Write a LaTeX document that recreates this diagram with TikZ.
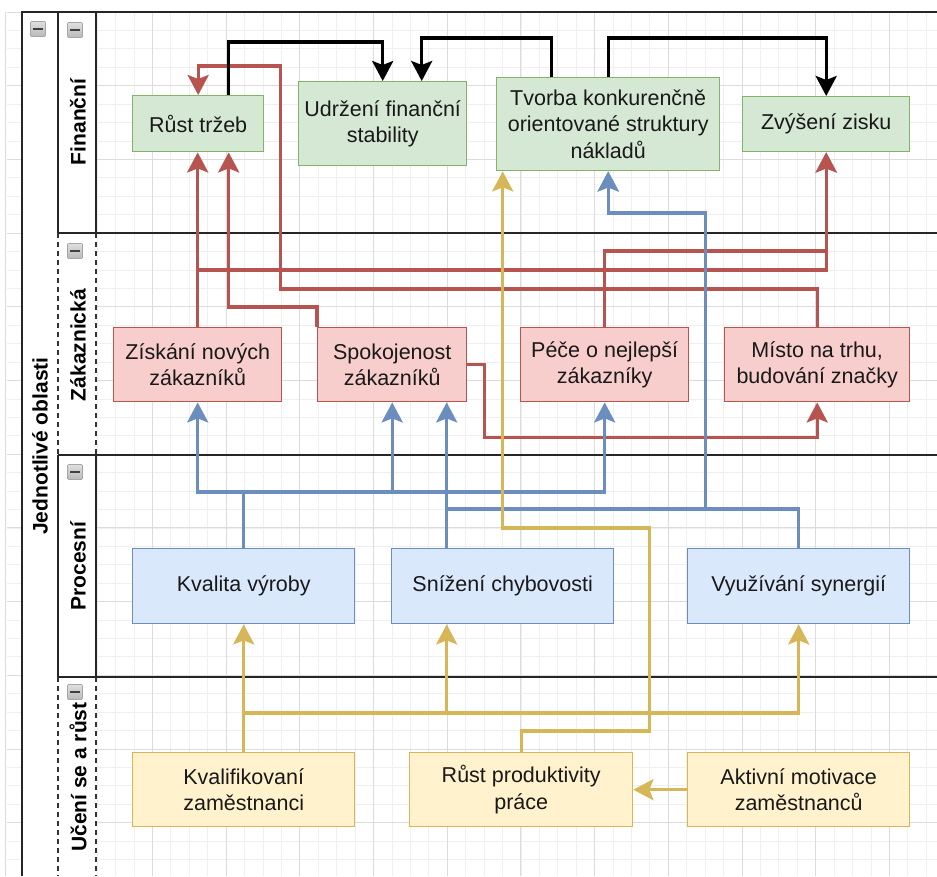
\documentclass[tikz,border=0pt]{standalone}
\usepackage{fontspec}
\setmainfont{Liberation Sans}
\usetikzlibrary{arrows.meta,calc}
\definecolor{gfill}{HTML}{D5E8D4}\definecolor{gline}{HTML}{82B366}
\definecolor{rfill}{HTML}{F8CECC}\definecolor{rline}{HTML}{B85450}
\definecolor{bfill}{HTML}{DAE8FC}\definecolor{bline}{HTML}{6C8EBF}
\definecolor{yfill}{HTML}{FFF2CC}\definecolor{yline}{HTML}{D6B656}
\definecolor{gridmin}{HTML}{EFEFEF}\definecolor{gridmaj}{HTML}{DCDCDC}
\begin{document}
\begin{tikzpicture}[x=1pt,y=-1pt,
  box/.style={draw, line width=1.4pt, anchor=north west, align=center, inner sep=0pt,
    font=\fontsize{21.5}{26.7}\selectfont, text=black!90},
  gbox/.style={box, fill=gfill, draw=gline},
  rbox/.style={box, fill=rfill, draw=rline},
  bbox/.style={box, fill=bfill, draw=bline},
  ybox/.style={box, fill=yfill, draw=yline},
  conn/.style={line width=3.4pt, -{Stealth[length=20pt,width=21pt,inset=4pt]}},
  redc/.style={conn, draw=rline},
  bluec/.style={conn, draw=bline},
  yelc/.style={conn, draw=yline},
  blkc/.style={conn, draw=black},
  lanelbl/.style={rotate=90, font=\fontsize{21}{25}\selectfont\bfseries},
  border/.style={line width=1.5pt, draw=black!85},
  dborder/.style={line width=1.3pt, draw=black!80, dash pattern=on 5pt off 4pt},
  icon/.style={draw=gray!70, line width=0.6pt, top color=gray!25, bottom color=gray!55,
    minimum width=15pt, minimum height=15pt, inner sep=0pt, rounded corners=1pt}
]
\useasboundingbox (0,0) rectangle (937,876);
\fill[white] (0,0) rectangle (937,876);
% grid
\foreach \i in {0,...,50} {\draw[gridmin, line width=0.8pt] ({5+18.425*\i},12) -- ({5+18.425*\i},876);}
\foreach \j in {0,...,46} {\draw[gridmin, line width=0.8pt] (7,{12+18.425*\j}) -- (937,{12+18.425*\j});}
\foreach \i in {0,...,12} {\draw[gridmaj, line width=1pt] ({5+73.7*\i},12) -- ({5+73.7*\i},876);}
\foreach \j in {0,...,11} {\draw[gridmaj, line width=1pt] (7,{12+73.7*\j}) -- (937,{12+73.7*\j});}
% pool header columns
\fill[white] (22,12) rectangle (96,876);
\draw[border] (22,876) -- (22,12) -- (937,12);
\draw[border] (58,12) -- (58,233);
\draw[border] (96,12) -- (96,233);
\draw[dborder] (58,233) -- (58,455);
\draw[dborder] (96,233) -- (96,455);
\draw[border] (58,455) -- (58,677);
\draw[border] (96,455) -- (96,677);
\draw[dborder] (58,677) -- (58,876);
\draw[dborder] (96,677) -- (96,876);
\draw[border] (58,233) -- (937,233);
\draw[border] (58,455) -- (937,455);
\draw[border] (58,677) -- (937,677);
% labels
\node[lanelbl] (pool) at (40,446) {Jednotlivé oblasti};
\node[lanelbl] (l1) at (78,122) {Finanční};
\node[lanelbl] (l2) at (78,345) {Zákaznická};
\node[lanelbl] (l3) at (78,566) {Procesní};
\node[lanelbl] (l4) at (78,777) {Učení se a růst};
% icons
\foreach \n/\x/\y in {i0/38/29, i1/75/30, i2/75/251, i3/75/472, i4/75/692} {
  \node[icon] (\n) at (\x,\y) {};
  \draw[black!75, line width=2.2pt] ($(\n.center)+(-5,0)$) -- ($(\n.center)+(5,0)$);
}
% nodes
\node[gbox, minimum width=131pt, minimum height=56pt] (rt) at (132,95) {Růst tržeb};
\node[gbox, minimum width=168pt, minimum height=84pt] (ud) at (298,81) {Udržení finanční\\stability};
\node[gbox, minimum width=223pt, minimum height=93pt] (tv) at (496,77) {Tvorba konkurenčně\\orientované struktury\\nákladů};
\node[gbox, minimum width=167pt, minimum height=55pt] (zz) at (742,96) {Zvýšení zisku};
\node[rbox, minimum width=168pt, minimum height=74pt] (zis) at (113,327) {Získání nových\\zákazníků};
\node[rbox, minimum width=149pt, minimum height=74pt] (sp) at (317,327) {Spokojenost\\zákazníků};
\node[rbox, minimum width=168pt, minimum height=74pt] (pe) at (520,327) {Péče o nejlepší\\zákazníky};
\node[rbox, minimum width=185pt, minimum height=74pt] (mt) at (724,327) {Místo na trhu,\\budování značky};
\node[bbox, minimum width=222pt, minimum height=75pt] (kv) at (132,548) {Kvalita výroby};
\node[bbox, minimum width=222pt, minimum height=75pt] (sn) at (391,548) {Snížení chybovosti};
\node[bbox, minimum width=222pt, minimum height=75pt] (vy) at (687,548) {Využívání synergií};
\node[ybox, minimum width=222pt, minimum height=74pt] (kf) at (132,752) {Kvalifikovaní\\zaměstnanci};
\node[ybox, minimum width=223pt, minimum height=74pt] (rp) at (409,752) {Růst produktivity\\práce};
\node[ybox, minimum width=222pt, minimum height=74pt] (am) at (687,752) {Aktivní motivace\\zaměstnanců};
% red connectors
\draw[redc] (zis.north) -- (zis.north |- rt.south);
\draw[redc] (zis.north) -- ++(0,-57) -| (zz.south);
\draw[redc] (sp.north west) -- ++(0,-20) -| ([xshift=30.5pt]rt.south);
\draw[redc] (mt.north) -- ++(0,-38) -- ++(-537,0) -- ++(0,-223) -| (rt.north);
\draw[redc] (pe.north) -- ++(0,-76) -| (zz.south);
\draw[redc] (sp.east) -- ++(17,0) -- ++(0,73) -| (mt.south);
% blue connectors
\draw[bluec] (kv.north) -- ++(0,-56) -| (zis.south);
\draw[bluec] (kv.north) -- ++(0,-56) -| (sp.south);
\draw[bluec] (kv.north) -- ++(0,-56) -| (pe.south);
\draw[bluec] ([xshift=-56pt]sn.north) -- ([xshift=-56pt]sn.north |- sp.south);
\draw[bluec] ([xshift=-56pt]sn.north) -- ++(0,-39) -- ++(259,0) -- ++(0,-296) -| (tv.south);
\draw[bluec] (vy.north) -- ++(0,-39) -- ++(-93,0) -- ++(0,-296) -| (tv.south);
% yellow connectors
\draw[yelc] (kf.north) -- (kv.south);
\draw[yelc] (kf.north) -- ++(0,-39) -| ([xshift=-56pt]sn.south);
\draw[yelc] (kf.north) -- ++(0,-39) -| (vy.south);
\draw[yelc] (rp.north) -- ++(0,-21) -- ++(128.5,0) -- ++(0,-203) -| ([xshift=-105.5pt]tv.south);
\draw[yelc] (am.west) -- (rp.east);
% black connectors
\draw[blkc] ([xshift=30.5pt]rt.north) -- ++(0,-53) -| (ud.north);
\draw[blkc] ([xshift=-56.5pt]tv.north) -- ++(0,-39) -| ([xshift=39pt]ud.north);
\draw[blkc] (tv.north) -- ++(0,-39) -| (zz.north);
\end{tikzpicture}
\end{document}
